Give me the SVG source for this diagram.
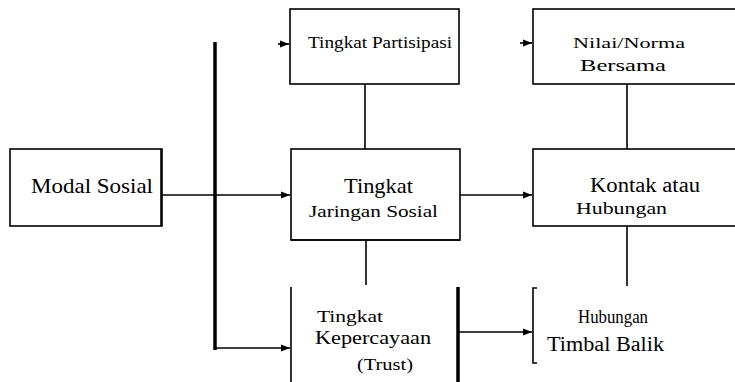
<svg xmlns="http://www.w3.org/2000/svg" width="735" height="382" viewBox="0 0 735 382" font-family="'Liberation Serif', 'Times New Roman', 'DejaVu Serif', serif">
<style>
.bx{fill:#fff;stroke:#000;stroke-width:1.6}
.ln{fill:none;stroke:#000;stroke-width:1.6}
.thk{fill:none;stroke:#000;stroke-width:3.5}
.t{font-family:'Liberation Serif','Times New Roman','DejaVu Serif',serif;fill:#000}
</style>
<defs>
<marker id="ah" viewBox="0 0 10 10" refX="10" refY="5" markerWidth="9" markerHeight="9" markerUnits="userSpaceOnUse" orient="auto">
<path d="M0,1 L10,5 L0,9 z" fill="#000"/>
</marker>
</defs>
<g id="connectors">
<line class="ln" x1="162" y1="195" x2="290" y2="195" marker-end="url(#ah)"/>
<line class="thk" x1="215" y1="42" x2="215" y2="350"/>
<line class="ln" x1="214" y1="348" x2="290" y2="348" stroke-width="2.5" marker-end="url(#ah)"/>
<line class="ln" x1="278" y1="44" x2="289" y2="44" marker-end="url(#ah)"/>
<line class="ln" x1="365" y1="84" x2="365" y2="149"/>
<line class="ln" x1="460" y1="195" x2="532" y2="195" marker-end="url(#ah)"/>
<line class="ln" x1="366" y1="241" x2="366" y2="285"/>
<line class="ln" x1="458" y1="332" x2="532" y2="332" stroke-width="3" marker-end="url(#ah)"/>
<line class="ln" x1="520" y1="43" x2="532" y2="43" marker-end="url(#ah)"/>
<line class="ln" x1="627" y1="84" x2="627" y2="149"/>
<line class="ln" x1="627" y1="226" x2="627" y2="286"/>
</g>
<g id="modal-sosial">
<rect class="bx" x="10" y="149" width="152" height="77"/>
<line class="ln" x1="161" y1="149" x2="161" y2="226" stroke-width="3"/>
<text class="t" x="31" y="193" font-size="21" textLength="122" lengthAdjust="spacingAndGlyphs">Modal Sosial</text>
</g>
<g id="tingkat-partisipasi">
<rect class="bx" x="290" y="9" width="169" height="75"/>
<text class="t" x="308" y="48" font-size="17" textLength="144" lengthAdjust="spacingAndGlyphs">Tingkat Partisipasi</text>
</g>
<g id="nilai-norma">
<rect class="bx" x="533" y="9" width="215" height="75"/>
<text class="t" x="573" y="48" font-size="15" textLength="112" lengthAdjust="spacingAndGlyphs">Nilai/Norma</text>
<text class="t" x="580" y="71" font-size="16" textLength="86" lengthAdjust="spacingAndGlyphs">Bersama</text>
</g>
<g id="tingkat-jaringan">
<rect class="bx" x="291" y="149" width="169" height="91"/>
<line class="ln" x1="291" y1="240" x2="460" y2="240" stroke-width="3"/>
<text class="t" x="344" y="193" font-size="21" textLength="69" lengthAdjust="spacingAndGlyphs">Tingkat</text>
<text class="t" x="309" y="217" font-size="17" textLength="129" lengthAdjust="spacingAndGlyphs">Jaringan Sosial</text>
</g>
<g id="kontak">
<rect class="bx" x="533" y="149" width="215" height="77"/>
<text class="t" x="590" y="192" font-size="20" textLength="110" lengthAdjust="spacingAndGlyphs">Kontak atau</text>
<text class="t" x="576" y="214" font-size="17" textLength="91" lengthAdjust="spacingAndGlyphs">Hubungan</text>
</g>
<g id="tingkat-kepercayaan">
<line class="ln" x1="291" y1="287" x2="291" y2="382"/>
<line class="thk" x1="458" y1="287" x2="458" y2="382"/>
<text class="t" x="317" y="322" font-size="16" textLength="66" lengthAdjust="spacingAndGlyphs">Tingkat</text>
<text class="t" x="315" y="344" font-size="19" textLength="116" lengthAdjust="spacingAndGlyphs">Kepercayaan</text>
<text class="t" x="357" y="370" font-size="16" textLength="56" lengthAdjust="spacingAndGlyphs">(Trust)</text>
</g>
<g id="timbal-balik">
<path class="ln" d="M537,288 H533 V363 H537"/>
<text class="t" x="578" y="323" font-size="19" textLength="70" lengthAdjust="spacingAndGlyphs">Hubungan</text>
<text class="t" x="547" y="351" font-size="20" textLength="117" lengthAdjust="spacingAndGlyphs">Timbal Balik</text>
</g>
</svg>
